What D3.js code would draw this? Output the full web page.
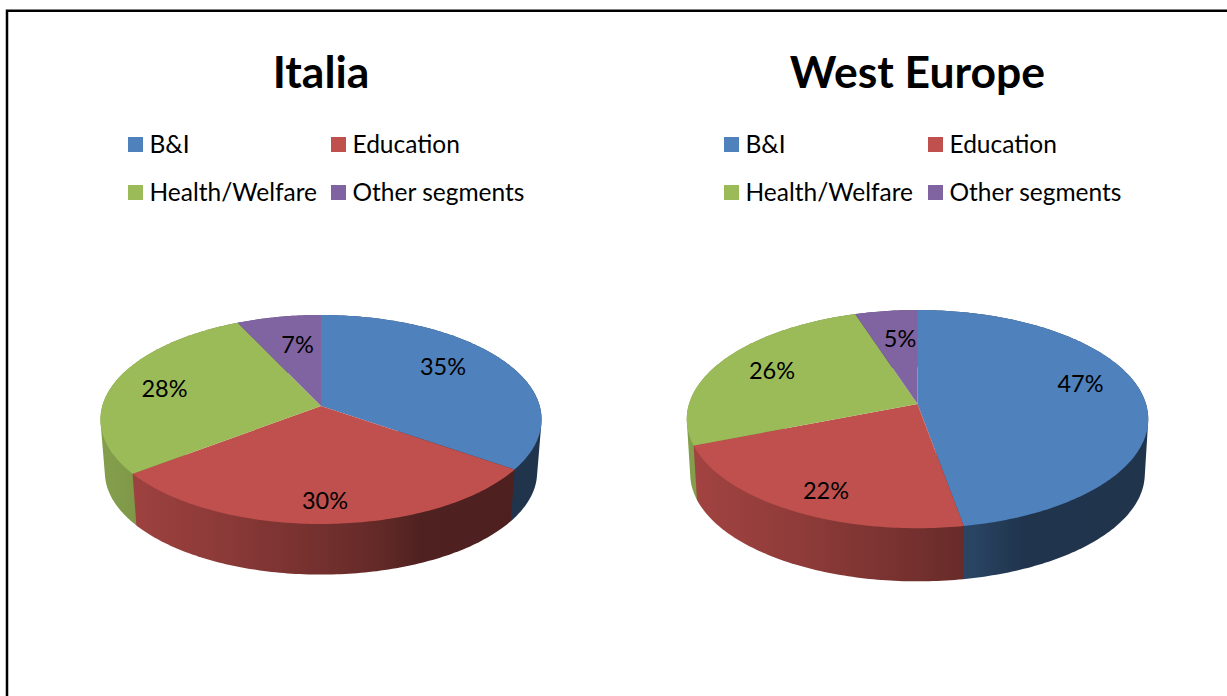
<!DOCTYPE html>
<html>
<head>
<meta charset="utf-8">
<script src="https://cdn.jsdelivr.net/npm/d3@7"></script>
<style>
  html, body { margin: 0; padding: 0; background: #fff; overflow: hidden; }
  text { font-family: Lato, "Open Sans", sans-serif; fill: #000; }
</style>
</head>
<body>
<script>
const categories = ["B&I", "Education", "Health/Welfare", "Other segments"];
const colors = ["#4f81bd", "#c0504d", "#9bbb59", "#8064a2"];
const italiaValues = [34.7, 29.9, 28.4, 7];
const westEuropeValues = [47.2, 21.8, 26, 5];

const width = 1227;
const height = 696;

// Layout of each pie. a/b/k describe the perspective
// of the top face, depth and shrink place the bottom rim.
const italiaLayout = {
    title: "Italia", values: italiaValues, id: "it",
    cx: 321, cy: 406, a: 218.7, b: 102.75, k: 0.129, depth: 53, shrink: 0.98,
    legendX: [128, 331],
    labels: [[443, 375], [325, 509], [164.5, 397], [297.5, 353]]
};
const westLayout = {
    title: "West Europe", values: westEuropeValues, id: "we",
    cx: 917.5, cy: 404, a: 228.5, b: 107, k: 0.1386, depth: 55, shrink: 0.985,
    legendX: [724, 928],
    labels: [[1080.5, 392], [826, 499], [772, 379], [900, 347]]
};

// Darkening of the side wall across the width of the pie (-1 left, +1 right)
const sideShade = d3.scaleLinear()
    .domain([-1, -0.5, 0, 0.25, 0.45, 1])
    .range([0.85, 0.74, 0.6, 0.52, 0.41, 0.4]);

const svg = d3.select("body").append("svg")
    .attr("width", width)
    .attr("height", height)
    .style("display", "block");

// Frame: only the top and left edges show in the crop
svg.append("path")
    .attr("d", d3.line()([[7, height], [7, 10.75], [width, 10.75]]))
    .attr("fill", "none")
    .attr("stroke", "#000")
    .attr("stroke-width", 2.5);

function drawPie(p) {
    const g = svg.append("g").attr("id", p.id);

    // Project an angle on the pie (0 at 12 o'clock, clockwise) to the screen
    function project(theta, scale = 1, drop = 0) {
        const x = Math.sin(theta);
        const y = -Math.cos(theta);
        const d = 1 - p.k * y;
        return [p.cx + scale * p.a * x / d, p.cy + drop + scale * p.b * y / d];
    }

    function rim(a0, a1, scale, drop) {
        const steps = Math.max(2, Math.ceil((a1 - a0) * 60));
        return d3.range(steps + 1).map(i => project(a0 + (a1 - a0) * i / steps, scale, drop));
    }

    const arcs = d3.pie().sort(null)(p.values);
    const line = d3.line();
    const rx = p.a / Math.sqrt(1 - p.k * p.k);

    // One horizontal gradient per colour for the side walls
    const defs = svg.append("defs");
    colors.forEach((c, i) => {
        const base = d3.rgb(c);
        const grad = defs.append("linearGradient")
            .attr("id", `${p.id}-side-${i}`)
            .attr("gradientUnits", "userSpaceOnUse")
            .attr("x1", p.cx - rx).attr("x2", p.cx + rx)
            .attr("y1", 0).attr("y2", 0);
        sideShade.domain().forEach(t => {
            const s = sideShade(t);
            grad.append("stop")
                .attr("offset", (t + 1) / 2)
                .attr("stop-color", d3.rgb(base.r * s, base.g * s, base.b * s));
        });
    });

    // Side walls first, the top faces then cover the hidden part. The slice at
    // the front goes last so its seams stay clean.
    const isFront = d => d.startAngle < Math.PI && d.endAngle > Math.PI;
    const sides = arcs.slice().sort((a, b) => d3.ascending(isFront(a), isFront(b)));
    g.selectAll(".side").data(sides).enter().append("path")
        .attr("class", "side")
        .attr("fill", d => `url(#${p.id}-side-${d.index})`)
        .attr("d", d => {
            const top = rim(d.startAngle, d.endAngle, 1, 0);
            const bottom = rim(d.startAngle, d.endAngle, p.shrink, p.depth);
            return line(d3.polygonHull(top.concat(bottom))) + "Z";
        });

    g.selectAll(".top").data(arcs).enter().append("path")
        .attr("class", "top")
        .attr("fill", (d, i) => colors[i])
        .attr("d", d => line([[p.cx, p.cy]].concat(rim(d.startAngle, d.endAngle, 1, 0))) + "Z");

    g.selectAll(".label").data(arcs).enter().append("text")
        .attr("class", "label")
        .attr("text-anchor", "middle")
        .attr("font-size", 23.5)
        .attr("x", (d, i) => p.labels[i][0])
        .attr("y", (d, i) => p.labels[i][1])
        .text(d => Math.round(d.value) + "%");

    g.append("text")
        .attr("x", p.cx)
        .attr("y", 88)
        .attr("text-anchor", "middle")
        .attr("font-size", 44.5)
        .attr("font-weight", 700)
        .text(p.title);

    // Legend, two rows of two
    const legend = g.selectAll(".legend").data(categories).enter().append("g")
        .attr("class", "legend")
        .attr("transform", (d, i) => `translate(${p.legendX[i % 2]},${137 + 48 * Math.floor(i / 2)})`);
    legend.append("rect")
        .attr("width", 15)
        .attr("height", 15)
        .attr("fill", (d, i) => colors[i]);
    legend.append("text")
        .attr("x", 21.5)
        .attr("y", 15.5)
        .attr("font-size", 24.5)
        .text(d => d);
}

drawPie(italiaLayout);
drawPie(westLayout);
</script>
</body>
</html>
